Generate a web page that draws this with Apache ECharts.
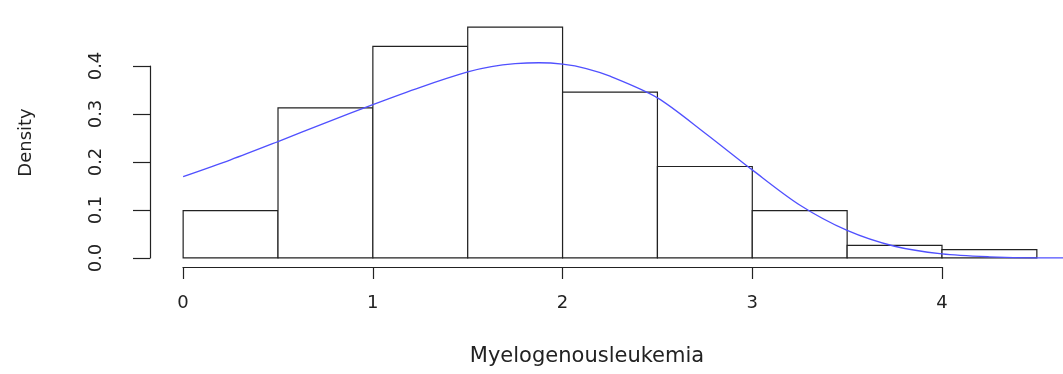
<!DOCTYPE html>
<html><head><meta charset="utf-8">
<script src="https://cdn.jsdelivr.net/npm/echarts@6/dist/echarts.min.js"></script>
<style>html,body{margin:0;padding:0;background:#fff}#c{width:1063px;height:374px}</style>
</head><body><div id="c"></div>
<script>
// Histogram bins
const binStarts = [0, 0.5, 1, 1.5, 2, 2.5, 3, 3.5, 4];
const binEnds   = [0.5, 1, 1.5, 2, 2.5, 3, 3.5, 4, 4.5];
const densities = [0.098, 0.312, 0.44, 0.48, 0.345, 0.19, 0.098, 0.026, 0.017];
// Density curve
const curveX = [0, 0.25, 0.5, 0.75, 1.0, 1.25, 1.5, 1.625, 1.75, 1.875, 2.0, 2.125, 2.25, 2.5, 2.75, 3.0, 3.25, 3.5, 3.75, 4.0, 4.25, 4.5, 4.68];
const curveY = [0.169, 0.204, 0.242, 0.281, 0.319, 0.355, 0.387, 0.398, 0.404, 0.406, 0.403, 0.394, 0.378, 0.333, 0.26, 0.183, 0.11, 0.057, 0.024, 0.008, 0.002, 0.0, 0.0];
// Tick labels
const xTickLabels = ['0', '1', '2', '3', '4'];
const yTickLabels = ['0.0', '0.1', '0.2', '0.3', '0.4'];
const xLabel = 'Myelogenousleukemia';
const yLabel = 'Density';

const FONT = 'DejaVu Sans';
const INK = '#222';
const lineStyle = {color: INK, width: 1.2};

const chart = echarts.init(document.getElementById('c'), null, {renderer: 'canvas'});
const barData = binStarts.map((s, i) => [s, binEnds[i], densities[i]]);
const curveData = curveX.map((x, i) => [x, curveY[i]]);

chart.setOption({
  animation: false,
  backgroundColor: '#fff',
  title: {
    text: xLabel, left: 587, top: 346, textAlign: 'center', padding: 0,
    textStyle: {fontFamily: FONT, fontSize: 21, fontWeight: 'normal', color: INK}
  },
  grid: [
    {left: 149, right: -8, top: 18, bottom: 107, outerBoundsMode: 'none'},
    {left: 150, width: 1, top: 66, bottom: 116, outerBoundsMode: 'none'},
    {left: 183, width: 759, top: 266, bottom: 107, outerBoundsMode: 'none'}
  ],
  xAxis: [
    {gridIndex: 0, type: 'value', min: -0.18, max: 4.68, show: false},
    {gridIndex: 1, type: 'value', min: 0, max: 1, show: false},
    {gridIndex: 2, type: 'value', min: 0, max: 4, interval: 1,
      axisLine: {show: true, onZero: false, lineStyle: lineStyle},
      axisTick: {show: true, length: 12, lineStyle: lineStyle},
      splitLine: {show: false},
      axisLabel: {margin: 27, fontFamily: FONT, fontSize: 18, color: INK,
        formatter: v => xTickLabels[Math.round(v)]}
    }
  ],
  yAxis: [
    {gridIndex: 0, type: 'value', min: -0.0192, max: 0.4992,
      axisLine: {show: false}, axisTick: {show: false}, axisLabel: {show: false}, splitLine: {show: false},
      name: yLabel, nameLocation: 'middle', nameRotate: 90, nameGap: 114,
      nameTextStyle: {fontFamily: FONT, fontSize: 18, color: INK}
    },
    {gridIndex: 1, type: 'value', min: 0, max: 0.4, interval: 0.1,
      axisLine: {show: true, onZero: false, lineStyle: lineStyle},
      axisTick: {show: true, length: 17, lineStyle: lineStyle},
      splitLine: {show: false},
      axisLabel: {rotate: 90, margin: 45, fontFamily: FONT, fontSize: 18, color: INK,
        formatter: v => yTickLabels[Math.round(v * 10)]}
    },
    {gridIndex: 2, type: 'value', min: 0, max: 1, show: false}
  ],
  series: [
    {
      type: 'custom', xAxisIndex: 0, yAxisIndex: 0, data: barData, z: 2,
      renderItem: function (params, api) {
        const p0 = api.coord([api.value(0), api.value(2)]);
        const p1 = api.coord([api.value(1), 0]);
        return {
          type: 'rect',
          shape: {x: p0[0], y: p0[1], width: p1[0] - p0[0], height: p1[1] - p0[1]},
          style: {fill: '#fff', stroke: INK, lineWidth: 1.2}
        };
      }
    },
    {
      type: 'line', xAxisIndex: 0, yAxisIndex: 0, data: curveData, z: 3,
      showSymbol: false, smooth: 0.3, clip: false,
      lineStyle: {color: '#5050ff', width: 1.3}
    }
  ]
});
</script>
</body></html>
